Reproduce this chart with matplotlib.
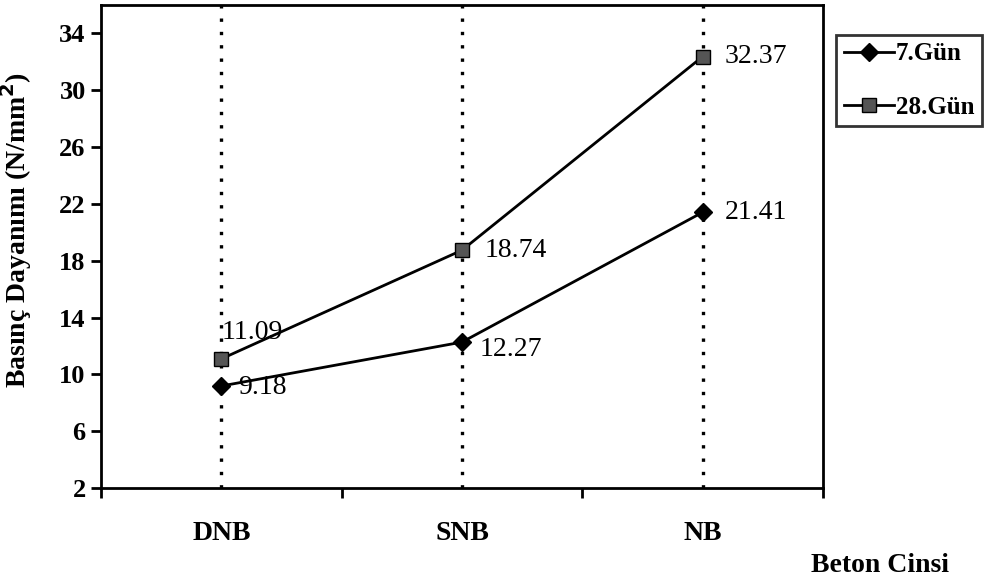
import numpy as np
import matplotlib.pyplot as plt

categories = ['DNB', 'SNB', 'NB']
gun7 = [9.18, 12.27, 21.41]
gun28 = [11.09, 18.74, 32.37]
yticks = [2, 6, 10, 14, 18, 22, 26, 30, 34]

plt.rcParams['font.family'] = ['Liberation Serif', 'DejaVu Serif']

fig = plt.figure(figsize=(9.99, 5.81), dpi=100)
ax = fig.add_axes([101 / 999, 1 - 488 / 581, (823 - 101) / 999, (488 - 5) / 581])

x = np.arange(len(categories))

# dotted guides at each category
for xi in x:
    ax.axvline(xi, color='black', linestyle=(0, (1, 3)), linewidth=2.4, zorder=1)

ax.plot(x, gun7, color='black', linewidth=2, marker='D', markersize=9,
        markerfacecolor='black', label='7.Gün', zorder=3)
ax.plot(x, gun28, color='black', linewidth=2, marker='s', markersize=10,
        markerfacecolor='#555555', markeredgecolor='black', label='28.Gün', zorder=3)

# value labels
offsets7 = [(12, -1), (13, -5), (16, 0)]
offsets28 = [(0, 19), (16, 0), (16, 0)]
for xi, v, off in zip(x, gun7, offsets7):
    ax.annotate(f'{v:.2f}', (xi, v), xytext=off, textcoords='offset points',
                fontsize=20, va='center', ha='left')
for xi, v, off in zip(x, gun28, offsets28):
    ax.annotate(f'{v:.2f}', (xi, v), xytext=off, textcoords='offset points',
                fontsize=20, va='center', ha='left')

ax.set_xlim(-0.5, 2.5)
ax.set_ylim(2, 36)
ax.set_yticks(yticks)
ax.set_yticklabels([str(t) for t in yticks], fontsize=19, fontweight='bold')
ax.set_xticks([-0.5, 0.5, 1.5, 2.5])
ax.set_xticklabels([])
ax.tick_params(axis='both', direction='out', width=2, length=7)
ax.tick_params(axis='y', pad=4)
for s in ax.spines.values():
    s.set_linewidth(2)

for xi, c in zip(x, categories):
    ax.text(xi, -0.095, c, transform=ax.get_xaxis_transform(), ha='center', va='center',
            fontsize=20, fontweight='bold')

ax.set_ylabel('Basınç Dayanımı (N/mm$^\\mathbf{2}$)', fontsize=20, fontweight='bold')
ax.yaxis.set_label_coords(-(101 - 34) / 722, 0.535)
fig.text(880 / 999, 1 - 566 / 581, 'Beton Cinsi', ha='center', va='center',
         fontsize=20, fontweight='bold')

leg = fig.legend(loc='upper left', bbox_to_anchor=(836 / 999, 1 - 35 / 581),
                 frameon=True, fancybox=False, edgecolor='black',
                 borderpad=0.3, handlelength=2.0, handletextpad=0.1, labelspacing=1.2,
                 borderaxespad=0, prop={'weight': 'bold', 'size': 18})
leg.get_frame().set_linewidth(2)

fig.savefig('out.png', dpi=100)
